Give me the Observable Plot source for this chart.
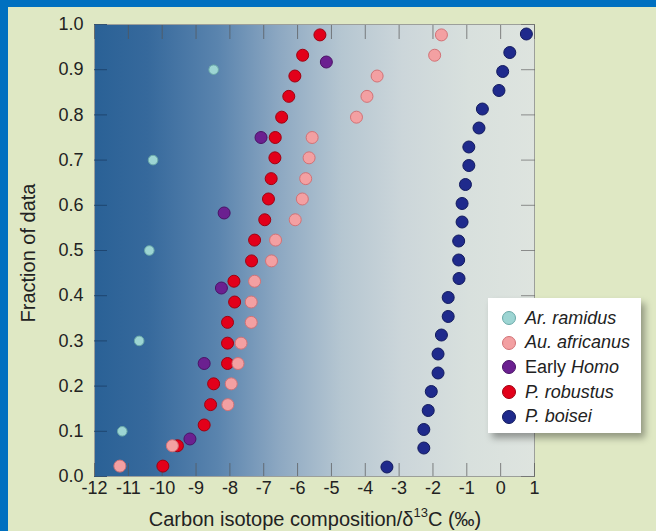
<!DOCTYPE html>
<html><head><meta charset="utf-8">
<script src="https://cdn.jsdelivr.net/npm/d3@7"></script>
<script src="https://cdn.jsdelivr.net/npm/@observablehq/plot@0.6"></script>
<style>
html,body{margin:0;padding:0;background:#dfe8c4;}
#wrap{position:relative;width:656px;height:531px;background:#dfe8c4;overflow:hidden;font-family:"Liberation Sans",Arial,sans-serif;color:#222;}
#topbar{position:absolute;left:0;top:0;width:656px;height:7px;background:#0070c0;z-index:3;}
#leftbar{position:absolute;left:0;top:0;width:8px;height:531px;background:#0070c0;z-index:3;}
#chart{position:absolute;left:0;top:0;}
#ytitle{position:absolute;left:28px;top:253px;transform:translate(-50%,-50%) rotate(-90deg);font-size:20px;white-space:nowrap;}
#xtitle{position:absolute;left:315px;top:519px;transform:translate(-50%,-50%);font-size:20px;white-space:nowrap;}
#xtitle sup{font-size:13px;vertical-align:top;position:relative;top:-3px;}
#legend{position:absolute;left:488px;top:298px;width:153px;height:135px;background:#fff;box-shadow:4px 5px 7px rgba(0,0,0,0.35);}
.row{position:absolute;left:14px;height:24px;display:flex;align-items:center;font-size:18px;white-space:nowrap;}
.row span.c{display:inline-block;width:14px;height:14px;border-radius:50%;margin-right:9px;box-sizing:border-box;border:1px solid;}
</style>
</head><body>
<div id="wrap">
  <div id="topbar"></div><div id="leftbar"></div>
  <div id="chart"></div>
  <div id="ytitle">Fraction of data</div>
  <div id="xtitle">Carbon isotope composition/δ<sup>13</sup>C (‰)</div>
  <div id="legend"></div>
</div>
<script>
// ---- data ----
const ramidusX   = [-11.18, -10.68, -10.38, -10.27, -8.48];
const ramidusY   = [0.1, 0.3, 0.5, 0.7, 0.9];

const africanusX = [-11.25, -9.70, -8.06, -7.96, -7.76, -7.67, -7.37, -7.37, -7.27, -6.77, -6.65,
                    -6.07, -5.86, -5.76, -5.66, -5.57, -4.26, -3.95, -3.65, -1.95, -1.75];
const africanusY = [0.023, 0.068, 0.159, 0.205, 0.25, 0.295, 0.341, 0.386, 0.432, 0.477, 0.523,
                    0.568, 0.614, 0.659, 0.705, 0.75, 0.795, 0.841, 0.886, 0.932, 0.977];

const homoX      = [-9.18, -8.76, -8.25, -8.17, -7.08, -5.15];
const homoY      = [0.083, 0.25, 0.417, 0.583, 0.75, 0.917];

const robustusX  = [-9.98, -9.55, -8.76, -8.57, -8.48, -8.07, -8.07, -8.07, -7.86, -7.88, -7.36,
                    -7.27, -6.97, -6.86, -6.78, -6.67, -6.66, -6.47, -6.26, -6.08, -5.85, -5.34];
const robustusY  = [0.023, 0.068, 0.114, 0.159, 0.205, 0.25, 0.295, 0.341, 0.386, 0.432, 0.477,
                    0.523, 0.568, 0.614, 0.659, 0.705, 0.75, 0.795, 0.841, 0.886, 0.932, 0.977];

const boiseiX    = [-3.36, -2.27, -2.27, -2.14, -2.05, -1.85, -1.85, -1.75, -1.55, -1.55, -1.23, -1.24,
                    -1.24, -1.14, -1.14, -1.04, -0.94, -0.94, -0.64, -0.54, -0.05, 0.06, 0.27, 0.76];
const boiseiY    = [0.021, 0.063, 0.104, 0.146, 0.188, 0.229, 0.271, 0.313, 0.354, 0.396, 0.438, 0.479,
                    0.521, 0.563, 0.604, 0.646, 0.688, 0.729, 0.771, 0.813, 0.854, 0.896, 0.938, 0.979];

const xTicks = [-12, -11, -10, -9, -8, -7, -6, -5, -4, -3, -2, -1, 0, 1];
const yTicks = [0, 0.1, 0.2, 0.3, 0.4, 0.5, 0.6, 0.7, 0.8, 0.9, 1.0];
const xDomain = [-12, 1];
const yDomain = [0, 1];

const seriesNames = ["Ar. ramidus", "Au. africanus", "Early Homo", "P. robustus", "P. boisei"];

// ---- styles ----
const styles = {
  "Ar. ramidus":   {fill: "#9dd5d3", stroke: "#6aa9a8", r: 4.8},
  "Au. africanus": {fill: "#f3a0a2", stroke: "#d27276", r: 6},
  "Early Homo":    {fill: "#6b2090", stroke: "#4a1266", r: 6},
  "P. robustus":   {fill: "#e2001a", stroke: "#a0000f", r: 6},
  "P. boisei":     {fill: "#1f2a8c", stroke: "#121a5e", r: 6}
};

const pts = (xs, ys) => xs.map((x, i) => ({x, y: ys[i]}));

const gradDefs = () => {
  const defs = d3.create("svg:defs");
  const g = defs.append("linearGradient").attr("id", "bggrad")
    .attr("x1", "0").attr("x2", "1").attr("y1", "0").attr("y2", "0");
  [[0, "#2a6196"], [0.12, "#36699c"], [0.28, "#5a84ae"], [0.42, "#8da8c2"],
   [0.56, "#b5c6d1"], [0.7, "#ccd6da"], [0.85, "#d8e0dd"], [1, "#dee4df"]]
    .forEach(([o, c]) => g.append("stop").attr("offset", o).attr("stop-color", c));
  return defs.node();
};

const dotMark = (name, xs, ys) => Plot.dot(pts(xs, ys), {
  x: "x", y: "y", r: styles[name].r, fill: styles[name].fill, stroke: styles[name].stroke, strokeWidth: 1
});

const chart = Plot.plot({
  width: 656, height: 531,
  marginLeft: 94, marginRight: 122, marginTop: 24, marginBottom: 55,
  x: {domain: xDomain},
  y: {domain: yDomain},
  style: {background: "transparent", fontFamily: "'Liberation Sans', Arial, sans-serif", color: "#222"},
  marks: [
    gradDefs,
    Plot.frame({fill: "url(#bggrad)", stroke: "#9c9f9a", strokeWidth: 1}),
    // inward ticks
    Plot.axisX({anchor: "bottom", ticks: xTicks, tickSize: -13, tickFormat: () => "", stroke: "#555", strokeOpacity: 0.7, label: null}),
    Plot.axisX({anchor: "top", ticks: xTicks, tickSize: -14, tickFormat: () => "", stroke: "#555", strokeOpacity: 0.7, label: null}),
    Plot.axisY({anchor: "left", ticks: yTicks, tickSize: -13, tickFormat: () => "", stroke: "#1b3f66", strokeOpacity: 0.8, label: null}),
    Plot.axisY({anchor: "right", ticks: yTicks, tickSize: -14, tickFormat: () => "", stroke: "#666", strokeOpacity: 0.7, label: null}),
    // labels
    Plot.axisX({anchor: "bottom", ticks: xTicks, tickSize: 0, tickPadding: 5, tickFormat: d => String(d), fontSize: 18, fill: "#222", label: null}),
    Plot.axisY({anchor: "left", ticks: yTicks, tickSize: 0, tickPadding: 11, tickFormat: d3.format(".1f"), fontSize: 18, fill: "#222", label: null}),
    // data
    dotMark("Ar. ramidus", ramidusX, ramidusY),
    dotMark("P. boisei", boiseiX, boiseiY),
    dotMark("P. robustus", robustusX, robustusY),
    dotMark("Au. africanus", africanusX, africanusY),
    dotMark("Early Homo", homoX, homoY)
  ]
});
document.getElementById("chart").appendChild(chart);

// legend
const legendLabels = {
  "Ar. ramidus": "<i>Ar. ramidus</i>",
  "Au. africanus": "<i>Au. africanus</i>",
  "Early Homo": "Early <i>Homo</i>",
  "P. robustus": "<i>P. robustus</i>",
  "P. boisei": "<i>P. boisei</i>"
};
const leg = document.getElementById("legend");
seriesNames.forEach((n, i) => {
  const row = document.createElement("div");
  row.className = "row";
  row.style.top = (8 + i * 24.7) + "px";
  row.innerHTML = `<span class="c" style="background:${styles[n].fill};border-color:${styles[n].stroke}"></span><span>${legendLabels[n]}</span>`;
  leg.appendChild(row);
});
</script>
</body></html>
